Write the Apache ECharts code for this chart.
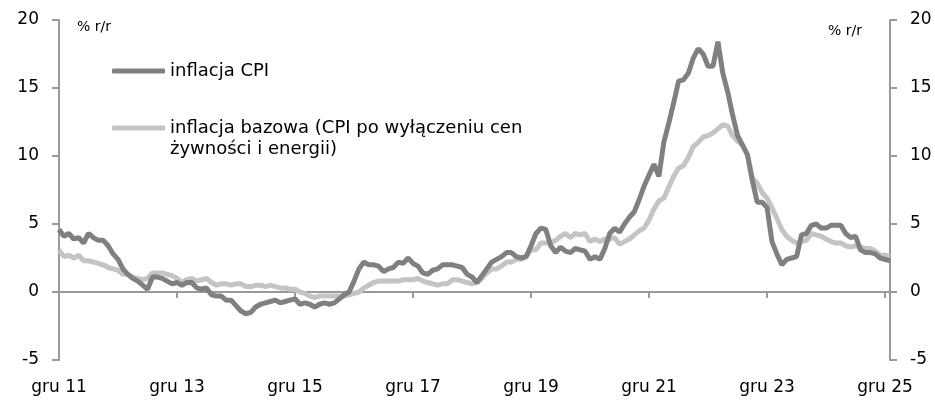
<!DOCTYPE html>
<html>
<head>
<meta charset="utf-8">
<script src="https://cdn.jsdelivr.net/npm/echarts@6/dist/echarts.min.js"></script>
<style>
  html, body { margin: 0; padding: 0; background: #fff; }
  #chart { width: 935px; height: 400px; }
</style>
</head>
<body>
<div id="chart"></div>
<script>
// miesiące (gru 11 ... sty 26)
const monthNames = ['sty', 'lut', 'mar', 'kwi', 'maj', 'cze', 'lip', 'sie', 'wrz', 'paź', 'lis', 'gru']
const categories = ['gru 11']
for (let y = 12; y <= 26; y++) {
  for (let m = 0; m < 12; m++) {
    if (y === 26 && m > 0) break
    categories.push(monthNames[m] + ' ' + y)
  }
}

// inflacja CPI, % r/r
const cpi = [
  4.6,
  4.1, 4.3, 3.9, 4.0, 3.6, 4.3, 4.0, 3.8, 3.8, 3.4, 2.8, 2.4,
  1.7, 1.3, 1.0, 0.8, 0.5, 0.2, 1.1, 1.1, 1.0, 0.8, 0.6, 0.7,
  0.5, 0.7, 0.7, 0.3, 0.2, 0.3, -0.2, -0.3, -0.3, -0.6, -0.6, -1.0,
  -1.4, -1.6, -1.5, -1.1, -0.9, -0.8, -0.7, -0.6, -0.8, -0.7, -0.6, -0.5,
  -0.9, -0.8, -0.9, -1.1, -0.9, -0.8, -0.9, -0.8, -0.5, -0.2, 0.0, 0.8,
  1.7, 2.2, 2.0, 2.0, 1.9, 1.5, 1.7, 1.8, 2.2, 2.1, 2.5, 2.1,
  1.9, 1.4, 1.3, 1.6, 1.7, 2.0, 2.0, 2.0, 1.9, 1.8, 1.3, 1.1,
  0.7, 1.2, 1.7, 2.2, 2.4, 2.6, 2.9, 2.9, 2.6, 2.5, 2.6, 3.4,
  4.3, 4.7, 4.6, 3.4, 2.9, 3.3, 3.0, 2.9, 3.2, 3.1, 3.0, 2.4,
  2.6, 2.4, 3.2, 4.3, 4.7, 4.4, 5.0, 5.5, 5.9, 6.8, 7.8, 8.6,
  9.4, 8.5, 11.0, 12.4, 13.9, 15.5, 15.6, 16.1, 17.2, 17.9, 17.5, 16.6,
  16.6, 18.4, 16.1, 14.7, 13.0, 11.5, 10.8, 10.1, 8.2, 6.6, 6.6, 6.2,
  3.7, 2.8, 2.0, 2.4, 2.5, 2.6, 4.2, 4.3, 4.9, 5.0, 4.7, 4.7,
  4.9, 4.9, 4.9, 4.3, 4.0, 4.1, 3.1, 2.9, 2.9, 2.8, 2.5, 2.4,
  2.3
]

// inflacja bazowa (bez żywności i energii), % r/r
const core = [
  3.1,
  2.6, 2.7, 2.5, 2.7, 2.3, 2.3, 2.2, 2.1, 2.0, 1.8, 1.7, 1.6,
  1.3, 1.3, 1.1, 1.0, 0.9, 1.0, 1.4, 1.4, 1.4, 1.3, 1.2, 1.0,
  0.7, 0.9, 1.0, 0.8, 0.9, 1.0, 0.7, 0.5, 0.6, 0.6, 0.5, 0.6,
  0.6, 0.4, 0.4, 0.5, 0.5, 0.4, 0.5, 0.4, 0.3, 0.3, 0.2, 0.2,
  0.0, -0.1, -0.3, -0.4, -0.3, -0.3, -0.3, -0.3, -0.3, -0.3, -0.2, -0.1,
  0.0, 0.3, 0.5, 0.7, 0.8, 0.8, 0.8, 0.8, 0.8, 0.9, 0.9, 0.9,
  1.0, 0.8, 0.7, 0.6, 0.5, 0.6, 0.6, 0.9, 0.9, 0.8, 0.7, 0.6,
  0.7, 1.0, 1.4, 1.7, 1.7, 1.9, 2.2, 2.2, 2.4, 2.4, 2.6, 3.1,
  3.1, 3.6, 3.6, 3.6, 3.8, 4.1, 4.3, 4.0, 4.3, 4.2, 4.3, 3.7,
  3.9, 3.7, 3.9, 3.9, 4.0, 3.5, 3.7, 3.9, 4.2, 4.5, 4.7, 5.3,
  6.1, 6.7, 6.9, 7.7, 8.5, 9.1, 9.3, 9.9, 10.7, 11.0, 11.4, 11.5,
  11.7, 12.0, 12.3, 12.2, 11.5, 11.1, 10.8, 10.1, 8.4, 8.0, 7.3, 6.9,
  6.2, 5.4, 4.6, 4.1, 3.8, 3.6, 3.7, 3.8, 4.3, 4.2, 4.1, 3.9,
  3.7, 3.6, 3.6, 3.4, 3.3, 3.4, 3.3, 3.2, 3.2, 3.0, 2.7, 2.7,
  2.6
]

const nameCpi = 'inflacja CPI'
const nameCore = 'inflacja bazowa (CPI po wyłączeniu cen'
const nameCore2 = 'żywności i energii)'
const unitLabel = '% r/r'

const font = 'DejaVu Sans'
const axisColor = '#999999'
const colorCpi = '#808080'
const colorCore = '#c4c4c4'

const chart = echarts.init(document.getElementById('chart'))

const yAxisBase = {
  type: 'value',
  min: -5,
  max: 20,
  interval: 5,
  splitLine: { show: false },
  axisLine: { show: true, lineStyle: { color: axisColor, width: 2 } },
  axisTick: { show: true, length: 7, lineStyle: { color: axisColor, width: 2 } },
  axisLabel: { fontSize: 17, color: '#000', fontFamily: font, margin: 20 },
}

const legendText = { fontSize: 18, color: '#000', fontFamily: font, lineHeight: 20 }

const option = {
  animation: false,
  grid: { left: 59, right: 45, top: 20, bottom: 40, containLabel: false, outerBoundsMode: 'none' },
  legend: [
    {
      data: [nameCpi],
      left: 112,
      top: 61,
      padding: 0,
      itemWidth: 53,
      itemHeight: 5,
      icon: 'roundRect',
      textStyle: legendText,
    },
    {
      data: [nameCore],
      left: 112,
      top: 118,
      padding: 0,
      itemWidth: 53,
      itemHeight: 5,
      icon: 'roundRect',
      textStyle: legendText,
    },
  ],
  graphic: [
    {
      type: 'text',
      left: 170,
      top: 140,
      style: { text: nameCore2, fontSize: 18, fill: '#000', fontFamily: font },
    },
    {
      type: 'text',
      left: 77,
      top: 20,
      style: { text: unitLabel, fontSize: 14, fill: '#000', fontFamily: font },
    },
    {
      type: 'text',
      left: 828,
      top: 24,
      style: { text: unitLabel, fontSize: 14, fill: '#000', fontFamily: font },
    },
  ],
  xAxis: {
    type: 'category',
    boundaryGap: false,
    data: categories,
    axisLine: { onZero: true, lineStyle: { color: axisColor, width: 2 } },
    axisTick: { show: true, interval: 23, length: 6, lineStyle: { color: axisColor, width: 2 } },
    axisLabel: { interval: 23, fontSize: 17, color: '#000', fontFamily: font, margin: 19 },
  },
  yAxis: [
    { ...yAxisBase, position: 'left' },
    { ...yAxisBase, position: 'right' },
  ],
  series: [
    {
      name: nameCore,
      type: 'line',
      data: core,
      showSymbol: false,
      color: colorCore,
      lineStyle: { width: 5, color: colorCore },
    },
    {
      name: nameCpi,
      type: 'line',
      data: cpi,
      showSymbol: false,
      color: colorCpi,
      lineStyle: { width: 5, color: colorCpi },
    },
  ],
}

chart.setOption(option)
</script>
</body>
</html>
